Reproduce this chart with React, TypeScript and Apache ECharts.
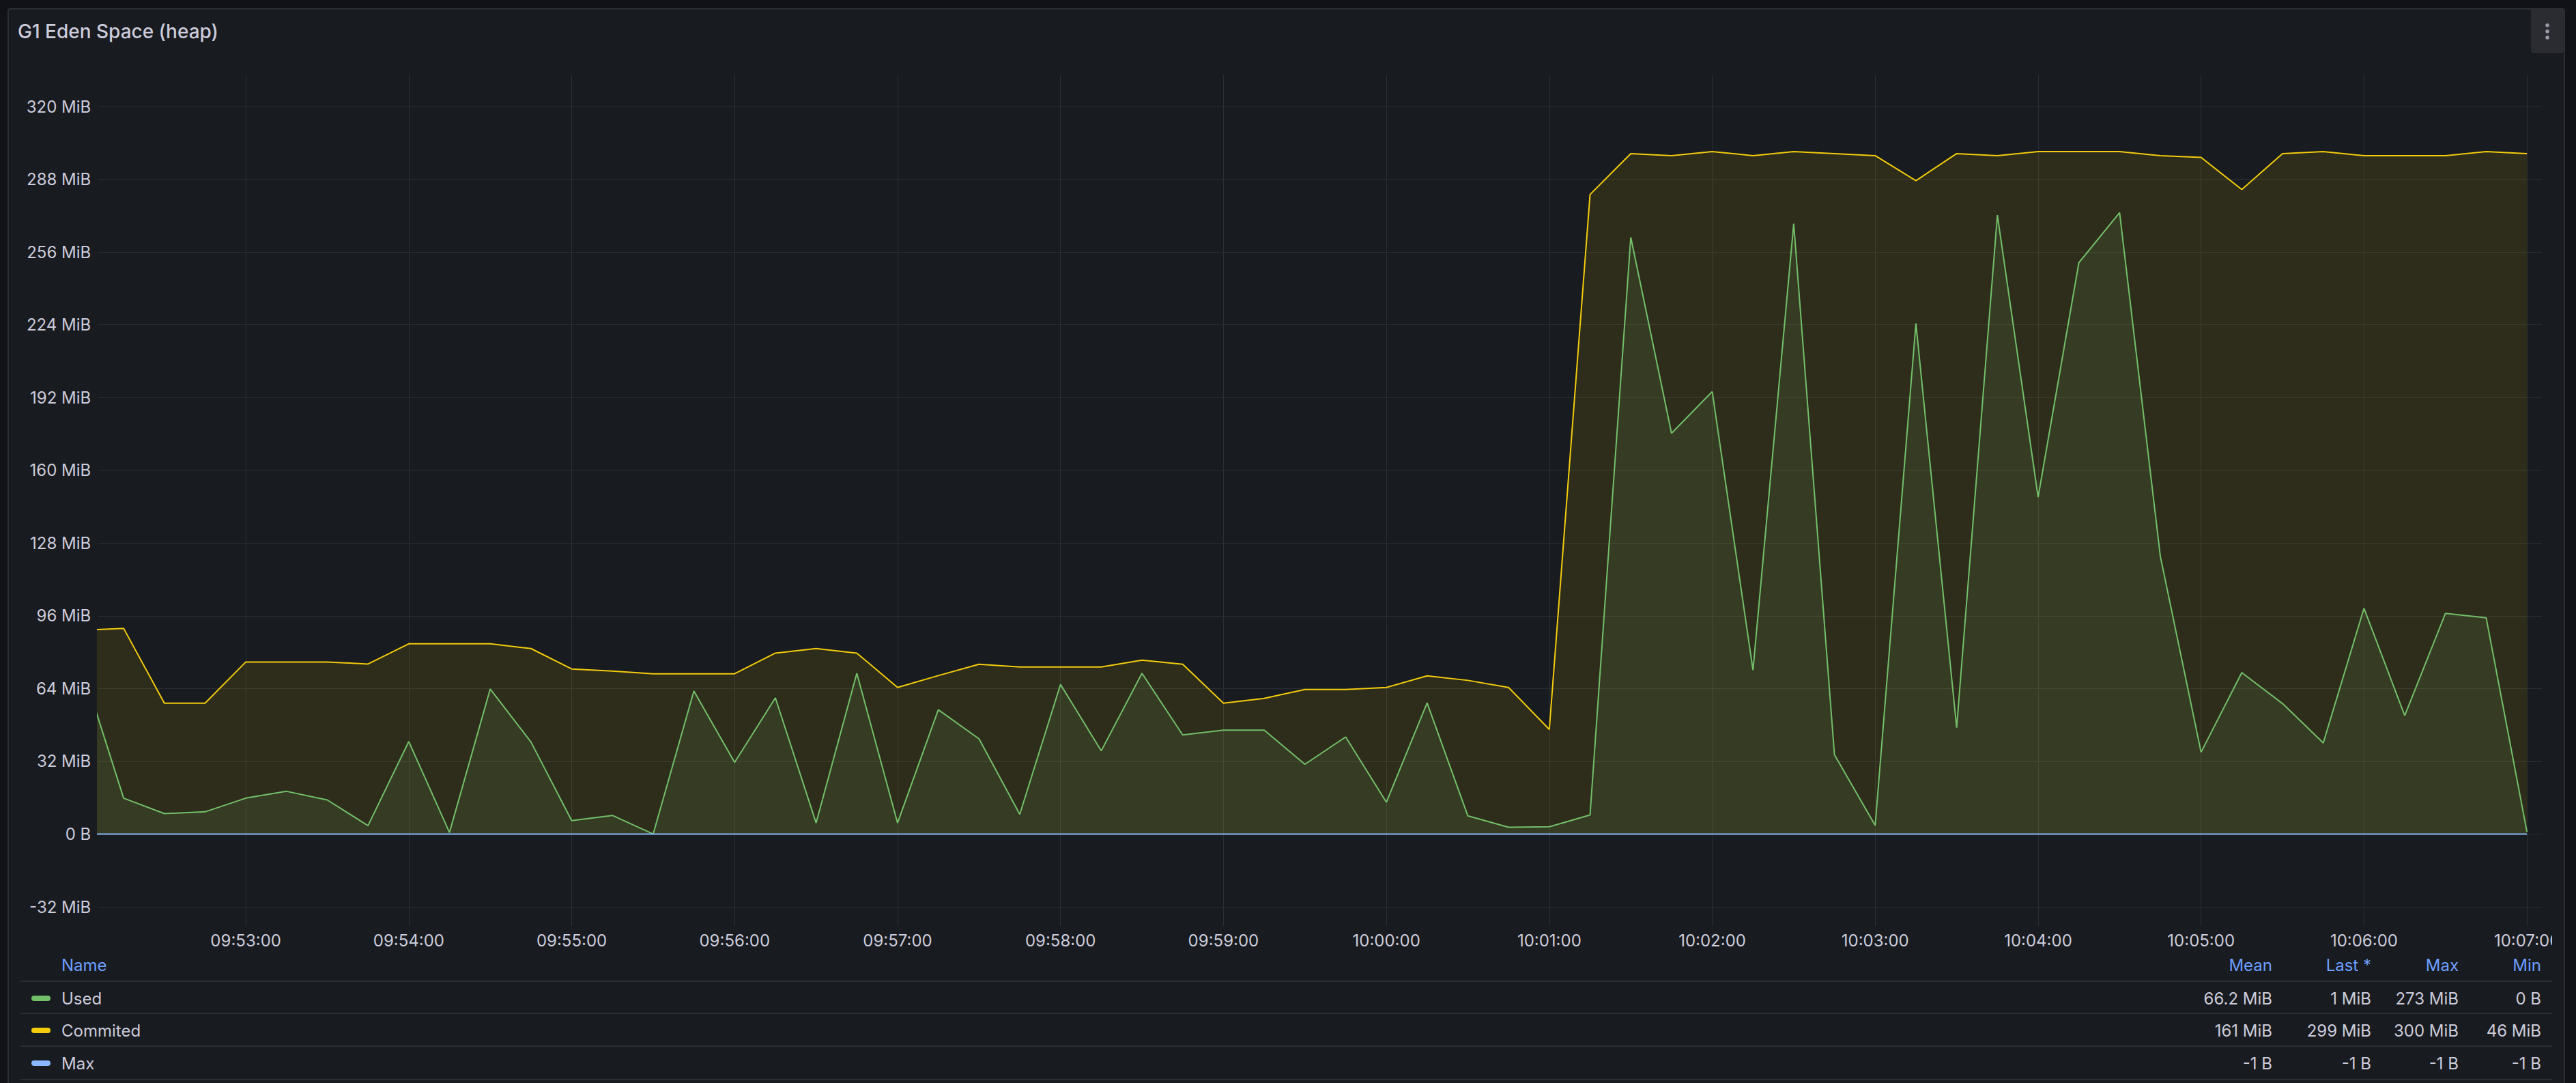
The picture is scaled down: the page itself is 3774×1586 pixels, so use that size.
import React, { useEffect, useRef } from "react";
import * as echarts from "echarts";

// ---- time base (UTC) ----
const T_START = Date.UTC(2024, 0, 1, 9, 52, 0);
const STEP_MS = 15000;
const X_MIN = Date.UTC(2024, 0, 1, 9, 52, 5, 500);
const X_MAX = Date.UTC(2024, 0, 1, 10, 7, 5, 500);
const TICK_MINUTES = [53, 54, 55, 56, 57, 58, 59, 60, 61, 62, 63, 64, 65, 66, 67];

// ---- series values (MiB), one sample every 15 s from 09:52:00 ----
const usedMiB = [
  72.2, 15.8, 9.0, 9.8, 15.8, 18.8, 15.0, 3.7, 40.7, 0.7,
  63.8, 40.5, 5.9, 8.2, 0.0, 62.9, 31.5, 59.9, 4.9, 70.7,
  4.9, 54.7, 41.9, 8.7, 65.8, 36.6, 70.7, 43.6, 45.7, 45.7,
  30.7, 42.7, 14.0, 57.7, 8.0, 3.0, 3.2, 8.4, 262.5, 176.3,
  194.6, 72.1, 268.5, 34.9, 3.8, 224.6, 46.8, 272.2, 148.2, 251.3,
  273.3, 122.2, 36.0, 71.0, 57.4, 40.1, 99.3, 52.1, 97.1, 95.1,
  1.0,
];
const commitedMiB = [
  89.6, 90.5, 57.6, 57.6, 75.7, 75.7, 75.7, 74.8, 83.7, 83.7,
  83.7, 81.6, 72.6, 71.7, 70.5, 70.5, 70.5, 79.6, 81.6, 79.6,
  64.5, 69.7, 74.7, 73.5, 73.5, 73.5, 76.5, 74.7, 57.6, 59.7,
  63.6, 63.6, 64.5, 69.6, 67.6, 64.5, 46.0, 281.3, 299.3, 298.4,
  300.2, 298.4, 300.2, 299.3, 298.4, 287.4, 299.3, 298.4, 300.2, 300.2,
  300.2, 298.4, 297.6, 283.5, 299.3, 300.2, 298.4, 298.4, 298.4, 300.2,
  299.3,
];
const maxBytes = [
  -1, -1, -1, -1, -1, -1, -1, -1, -1, -1,
  -1, -1, -1, -1, -1, -1, -1, -1, -1, -1,
  -1, -1, -1, -1, -1, -1, -1, -1, -1, -1,
  -1, -1, -1, -1, -1, -1, -1, -1, -1, -1,
  -1, -1, -1, -1, -1, -1, -1, -1, -1, -1,
  -1, -1, -1, -1, -1, -1, -1, -1, -1, -1,
  -1,
];

// ---- legend table ----
const legendNames = ["Used", "Commited", "Max"];
const legendColors = ["#73BF69", "#F2CC0C", "#8AB8FF"];
const legendHeaders = ["Mean", "Last *", "Max", "Min"];
const legendStats = [
  ["66.2 MiB", "1 MiB", "273 MiB", "0 B"],
  ["161 MiB", "299 MiB", "300 MiB", "46 MiB"],
  ["-1 B", "-1 B", "-1 B", "-1 B"],
];

const TEXT = "#ccccdc";
const GRID_LINE = "#2b2f33";
const FONT = "Inter";

const pad = (n: number) => (n < 10 ? "0" + n : "" + n);
const fmtTime = (v: number) => {
  const d = new Date(v);
  return `${pad(d.getUTCHours())}:${pad(d.getUTCMinutes())}:${pad(d.getUTCSeconds())}`;
};

export default function App() {
  const ref = useRef<HTMLDivElement>(null);

  useEffect(() => {
    if (!ref.current) return;
    const chart = echarts.init(ref.current, undefined, { renderer: "svg" });

    const times = usedMiB.map((_, i) => T_START + i * STEP_MS);
    const ticks = TICK_MINUTES.map((m) => Date.UTC(2024, 0, 1, 9, m, 0));

    const mk = (name: string, vals: number[], color: string, area: boolean) => ({
      type: "line",
      name,
      xAxisIndex: 0,
      yAxisIndex: 0,
      data: times.map((t, i) => [t, vals[i]]),
      symbol: "none",
      showSymbol: false,
      clip: true,
      lineStyle: { color, width: 2 },
      itemStyle: { color },
      areaStyle: area ? { color, opacity: 0.1 } : undefined,
      emphasis: { disabled: true },
    });

    const rightEdges = [3329, 3474, 3602, 3723];
    const rowY = [1462, 1509, 1557];
    const sepY = [1437, 1484, 1532, 1581];

    const graphics: any[] = [];
    graphics.push({
      type: "text",
      x: 26,
      y: 46,
      style: {
        text: "G1 Eden Space (heap)",
        fill: TEXT,
        fontSize: 28,
        fontWeight: 500,
        fontFamily: FONT,
        verticalAlign: "middle",
        align: "left",
      },
    });
    graphics.push({
      type: "rect",
      shape: { x: 3708, y: 13, width: 48, height: 65, r: 4 },
      style: { fill: "#2a2c31" },
      z: 50,
    });
    [37, 46, 55].forEach((cy) =>
      graphics.push({
        type: "circle",
        shape: { cx: 3732, cy, r: 2.8 },
        style: { fill: "#9a9ba6" },
        z: 51,
      })
    );
    graphics.push({
      type: "rect",
      shape: { x: 3739, y: 1360, width: 16, height: 36 },
      style: { fill: "#181b1f" },
      z: 100,
    });
    graphics.push({
      type: "text",
      x: 90,
      y: 1413,
      style: { text: "Name", fill: "#6e9fff", fontSize: 24, fontFamily: FONT, verticalAlign: "middle", align: "left" },
    });
    legendHeaders.forEach((h, j) =>
      graphics.push({
        type: "text",
        x: rightEdges[j],
        y: 1413,
        style: { text: h, fill: "#6e9fff", fontSize: 24, fontFamily: FONT, verticalAlign: "middle", align: "right" },
      })
    );
    sepY.forEach((y) =>
      graphics.push({
        type: "line",
        shape: { x1: 30, y1: y, x2: 3739, y2: y },
        style: { stroke: "#2c2f34", lineWidth: 2 },
      })
    );
    legendNames.forEach((n, i) => {
      graphics.push({
        type: "rect",
        shape: { x: 46, y: rowY[i] - 4, width: 28, height: 8, r: 4 },
        style: { fill: legendColors[i] },
      });
      graphics.push({
        type: "text",
        x: 90,
        y: rowY[i],
        style: { text: n, fill: TEXT, fontSize: 24, fontFamily: FONT, verticalAlign: "middle", align: "left" },
      });
      legendStats[i].forEach((s, j) =>
        graphics.push({
          type: "text",
          x: rightEdges[j],
          y: rowY[i],
          style: { text: s, fill: TEXT, fontSize: 24, fontFamily: FONT, verticalAlign: "middle", align: "right" },
        })
      );
    });

    const option: any = {
      animation: false,
      backgroundColor: "transparent",
      textStyle: { fontFamily: FONT },
      grid: [
        { left: 143.3, right: 3774 - 3724, top: 156, height: 1328 - 156, containLabel: false },
        { left: 143.3, right: 3774 - 3724, top: 110, height: 1356 - 110, containLabel: false },
      ],
      xAxis: [
        {
          type: "value",
          gridIndex: 0,
          min: X_MIN,
          max: X_MAX,
          scale: true,
          axisLine: { show: false },
          axisTick: { show: false },
          axisLabel: { show: false },
          splitLine: { show: false },
        },
        {
          type: "value",
          gridIndex: 1,
          min: X_MIN,
          max: X_MAX,
          scale: true,
          axisLine: { show: false },
          axisTick: { show: false, customValues: ticks },
          axisLabel: {
            customValues: ticks,
            formatter: (v: number) => fmtTime(v),
            color: TEXT,
            fontSize: 24,
            fontFamily: FONT,
            margin: 9,
            hideOverlap: false,
          },
          splitLine: { show: true, lineStyle: { color: GRID_LINE, width: 1 } },
        },
      ],
      yAxis: [
        {
          type: "value",
          gridIndex: 0,
          min: -32,
          max: 320,
          interval: 32,
          axisLine: { show: false },
          axisTick: { show: false },
          axisLabel: {
            formatter: (v: number) => (v === 0 ? "0 B" : `${v} MiB`),
            color: TEXT,
            fontSize: 24,
            fontFamily: FONT,
            margin: 10,
          },
          splitLine: { show: true, lineStyle: { color: GRID_LINE, width: 1 } },
        },
        {
          type: "value",
          gridIndex: 1,
          min: 0,
          max: 1,
          show: false,
          splitLine: { show: false },
        },
      ],
      series: [
        mk("Used", usedMiB, legendColors[0], true),
        mk("Commited", commitedMiB, legendColors[1], true),
        mk("Max", maxBytes.map((b) => b / 1048576), legendColors[2], false),
      ],
      graphic: { elements: graphics },
    };

    chart.setOption(option);
    return () => chart.dispose();
  }, []);

  return (
    <div
      style={{
        position: "fixed",
        left: 0,
        top: 0,
        width: 3774,
        height: 1586,
        background: "#111217",
        overflow: "hidden",
      }}
    >
      <div
        style={{
          position: "absolute",
          left: 11,
          top: 12,
          width: 3747,
          height: 1640,
          background: "#181b1f",
          border: "2px solid #2b2d33",
          borderRadius: 4,
          boxSizing: "border-box",
        }}
      />
      <div ref={ref} style={{ position: "absolute", left: 0, top: 0, width: 3774, height: 1586 }} />
    </div>
  );
}
